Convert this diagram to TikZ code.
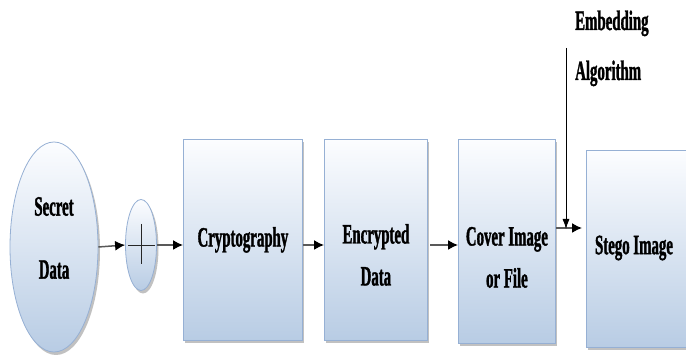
\documentclass[tikz,border=0pt]{standalone}
\usepackage{fontspec}
\newfontfamily\lblfont{Liberation Serif}[FakeStretch=0.53, BoldFeatures={FakeBold=1.2}]
\usetikzlibrary{shapes.geometric,arrows.meta,shadows}
\definecolor{boxtop}{RGB}{252,253,255}
\definecolor{boxbot}{RGB}{184,204,228}
\definecolor{boxline}{RGB}{150,176,212}
\tikzset{
  x=1pt, y=-1pt,
  panel/.style={draw=boxline, line width=0.8pt, top color=boxtop, bottom color=boxbot,
    drop shadow={shadow xshift=2pt, shadow yshift=-3pt, fill=black!40, opacity=0.6},
    inner sep=0pt},
  boxnode/.style={panel, rectangle, anchor=north west},
  ovalnode/.style={panel, ellipse},
  lbl/.style={font=\lblfont\bfseries\fontsize{28}{42}\selectfont, align=center, inner sep=0pt},
  flow/.style={line width=1.5pt, draw=black!65, -{Latex[color=black,length=10pt,width=10pt]}},
  thinflow/.style={line width=0.8pt, draw=black, -{Latex[length=10pt,width=7pt]}}
}
\begin{document}
\begin{tikzpicture}
\useasboundingbox (0,0) rectangle (686,355);
\fill[white] (0,0) rectangle (686,355);
\begin{scope}
\clip (0,0) rectangle (686,355);
% shapes
\node[ovalnode, minimum width=88pt, minimum height=210pt] (secret) at (54,247) {};
\node[ovalnode, minimum width=31pt, minimum height=91pt] (plus) at (141,245) {};
\node[boxnode, minimum width=119pt, minimum height=201pt] (crypto) at (183,139) {};
\node[boxnode, minimum width=103pt, minimum height=201pt] (enc) at (324,139) {};
\node[boxnode, minimum width=97pt, minimum height=204pt] (cover) at (458,139) {};
\node[boxnode, minimum width=120pt, minimum height=197pt] (stego) at (586,150) {};
\end{scope}
% labels
\node[lbl] (secrettxt) at ([yshift=9pt]secret.center) {Secret\\[21pt]Data};
\node[lbl] (cryptotxt) at (crypto.center) {Cryptography};
\node[lbl] (enctxt) at ([yshift=-15pt]enc.center) {Encrypted\\Data};
\node[lbl] (covertxt) at ([yshift=-16pt]cover.center) {Cover Image\\or File};
\node[lbl] (stegotxt) at (634,248) {Stego Image};
\node[lbl, anchor=base west] (emb1) at (575,30) {Embedding};
\node[lbl, anchor=base west] (emb2) at (575,80) {Algorithm};
% plus sign
\coordinate (pl) at ([xshift=-13pt]plus.center);
\coordinate (pr) at ([xshift=14pt]plus.center);
\coordinate (pt) at ([yshift=21pt]plus.center);
\coordinate (pb) at ([yshift=-19pt]plus.center);
\draw[line width=0.6pt, black!85] (pl) -- (pr);
\draw[line width=0.6pt, black!85] (pt) -- (pb);
% connectors
\draw[flow] (secret.east) -- (plus.west);
\draw[flow] (plus.east) -- (crypto.west |- plus.east);
\draw[flow] (crypto.east |- 0,245) -- (enc.west |- 0,245);
\coordinate (encout) at (430,245);
\draw[flow] (encout) -- (cover.west |- encout);
\coordinate (coverout) at (cover.east |- 0,228);
\coordinate (stegoin) at (582,228);
\draw[flow] (coverout) -- (stegoin);
\coordinate (algtop) at (566,48);
\coordinate (algbot) at (566,229);
\draw[thinflow] (algtop) -- (algbot);
\end{tikzpicture}
\end{document}
